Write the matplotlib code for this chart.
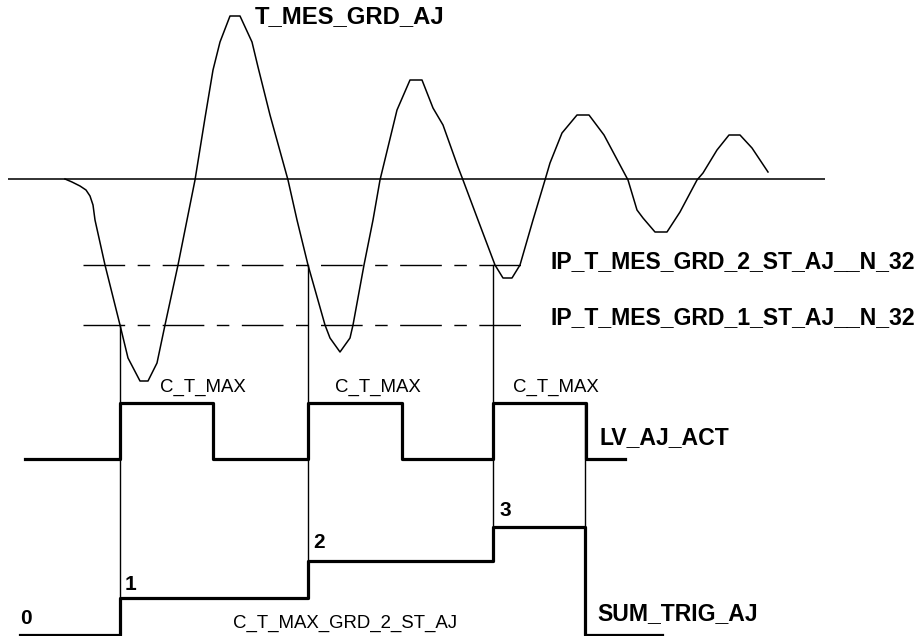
import matplotlib
matplotlib.use("Agg")
import matplotlib.pyplot as plt

# ---------------- data (screen units) ----------------
# measured temperature gradient T_MES_GRD_AJ (time, screen level)
wave_t = [65, 72, 80, 86, 90, 93, 95, 105, 120, 128, 140, 148, 157, 165, 178, 187,
          195, 205, 213, 220, 230, 240, 252, 258, 270, 288, 297, 308, 325, 330, 340,
          350, 353, 364, 373, 380, 397, 410, 422, 433, 443, 458, 463, 478, 495, 503,
          512, 520, 533, 545, 550, 562, 577, 589, 604, 628, 637, 643, 655, 667, 680,
          697, 703, 717, 729, 740, 752, 768]
wave_y = [179, 182, 186, 190, 196, 205, 220, 265, 325, 358, 381, 381, 363, 325, 265, 220,
          180, 118, 70, 42, 16, 16, 42, 67, 115, 180, 220, 265, 325, 338, 352,
          338, 325, 265, 220, 180, 110, 80, 80, 108, 125, 167, 180, 220, 265, 278,
          278, 265, 220, 180, 163, 133, 115, 115, 135, 180, 210, 218, 232, 232, 212,
          180, 173, 150, 135, 135, 148, 172]

baseline_t = [8, 825]
baseline_y = 179

thr_names = ["IP_T_MES_GRD_2_ST_AJ__N_32", "IP_T_MES_GRD_1_ST_AJ__N_32"]
thr_levels = [265, 325]
thr_label_y = [262, 318]
thr_t = [83, 533]

# trigger instants (threshold crossings) and extent of the marker lines
trig_t = [120, 308, 493, 585]
trig_top = [325, 265, 265, 403]
trig_bottom = [598, 561, 527, 635]

# LV_AJ_ACT pulse train
lv_t = [25, 120, 213, 308, 402, 493, 586, 625]
lv_state = [0, 1, 0, 1, 0, 1, 0]
lv_level = [459, 403]          # screen level of state 0 / 1

# SUM_TRIG_AJ counter
sum_t = [20, 120, 308, 493, 585, 662]
sum_count = [0, 1, 2, 3, 0]
sum_level = [635, 598, 561, 527]   # screen level of count 0..3
count_labels = ["0", "1", "2", "3"]
count_label_pos = [(20, 619), (125, 584), (313, 543), (499, 510)]

ctmax_label = "C_T_MAX"
ctmax_x = [160, 335, 513]
ctmax_y = 387

# ---------------- drawing ----------------
fig = plt.figure(figsize=(9.22, 6.36), dpi=100)
ax = fig.add_axes([0, 0, 1, 1])
ax.set_xlim(0, 922)
ax.set_ylim(636, 0)
ax.axis("off")

FONT = "Liberation Sans"
K = "#000000"
BIG = 16.6
SMALL = 13.4

# baseline
ax.plot(baseline_t, [baseline_y, baseline_y], color="#222222", lw=1.3, solid_capstyle="butt")

# waveform
ax.plot(wave_t, wave_y, color=K, lw=1.1)
ax.text(255, 17, "T_MES_GRD_AJ", fontsize=17.2, fontweight="bold", family=FONT,
        ha="left", va="center", color=K)

# thresholds (dash-dot-like)
for name, lvl, ly in zip(thr_names, thr_levels, thr_label_y):
    ax.plot(thr_t, [lvl, lvl], color=K, lw=1.0, dashes=(30, 9, 9, 9))
    ax.text(550, ly, name, fontsize=BIG, fontweight="bold", family=FONT,
            ha="left", va="center", color=K)

# trigger marker lines
for t, a, b in zip(trig_t, trig_top, trig_bottom):
    ax.plot([t, t], [a, b], color=K, lw=1.0)

# LV_AJ_ACT
lv_y = [lv_level[s] for s in lv_state] + [lv_level[lv_state[-1]]]
ax.step(lv_t, lv_y, where="post", color=K, lw=2.3)
ax.text(599, 438, "LV_AJ_ACT", fontsize=BIG, fontweight="bold", family=FONT,
        ha="left", va="center", color=K)
for x in ctmax_x:
    ax.text(x, ctmax_y, ctmax_label, fontsize=SMALL, family=FONT,
            ha="left", va="center", color=K)

# SUM_TRIG_AJ
sum_y = [sum_level[c] for c in sum_count] + [sum_level[sum_count[-1]]]
ax.step(sum_t, sum_y, where="post", color=K, lw=2.3)
ax.text(597, 614, "SUM_TRIG_AJ", fontsize=BIG, fontweight="bold", family=FONT,
        ha="left", va="center", color=K)
for lab, (x, y) in zip(count_labels, count_label_pos):
    ax.text(x, y, lab, fontsize=15, fontweight="bold", family=FONT,
            ha="left", va="center", color=K)
ax.text(233, 623, "C_T_MAX_GRD_2_ST_AJ", fontsize=SMALL, family=FONT,
        ha="left", va="center", color=K)

fig.savefig("out.png", dpi=100)
